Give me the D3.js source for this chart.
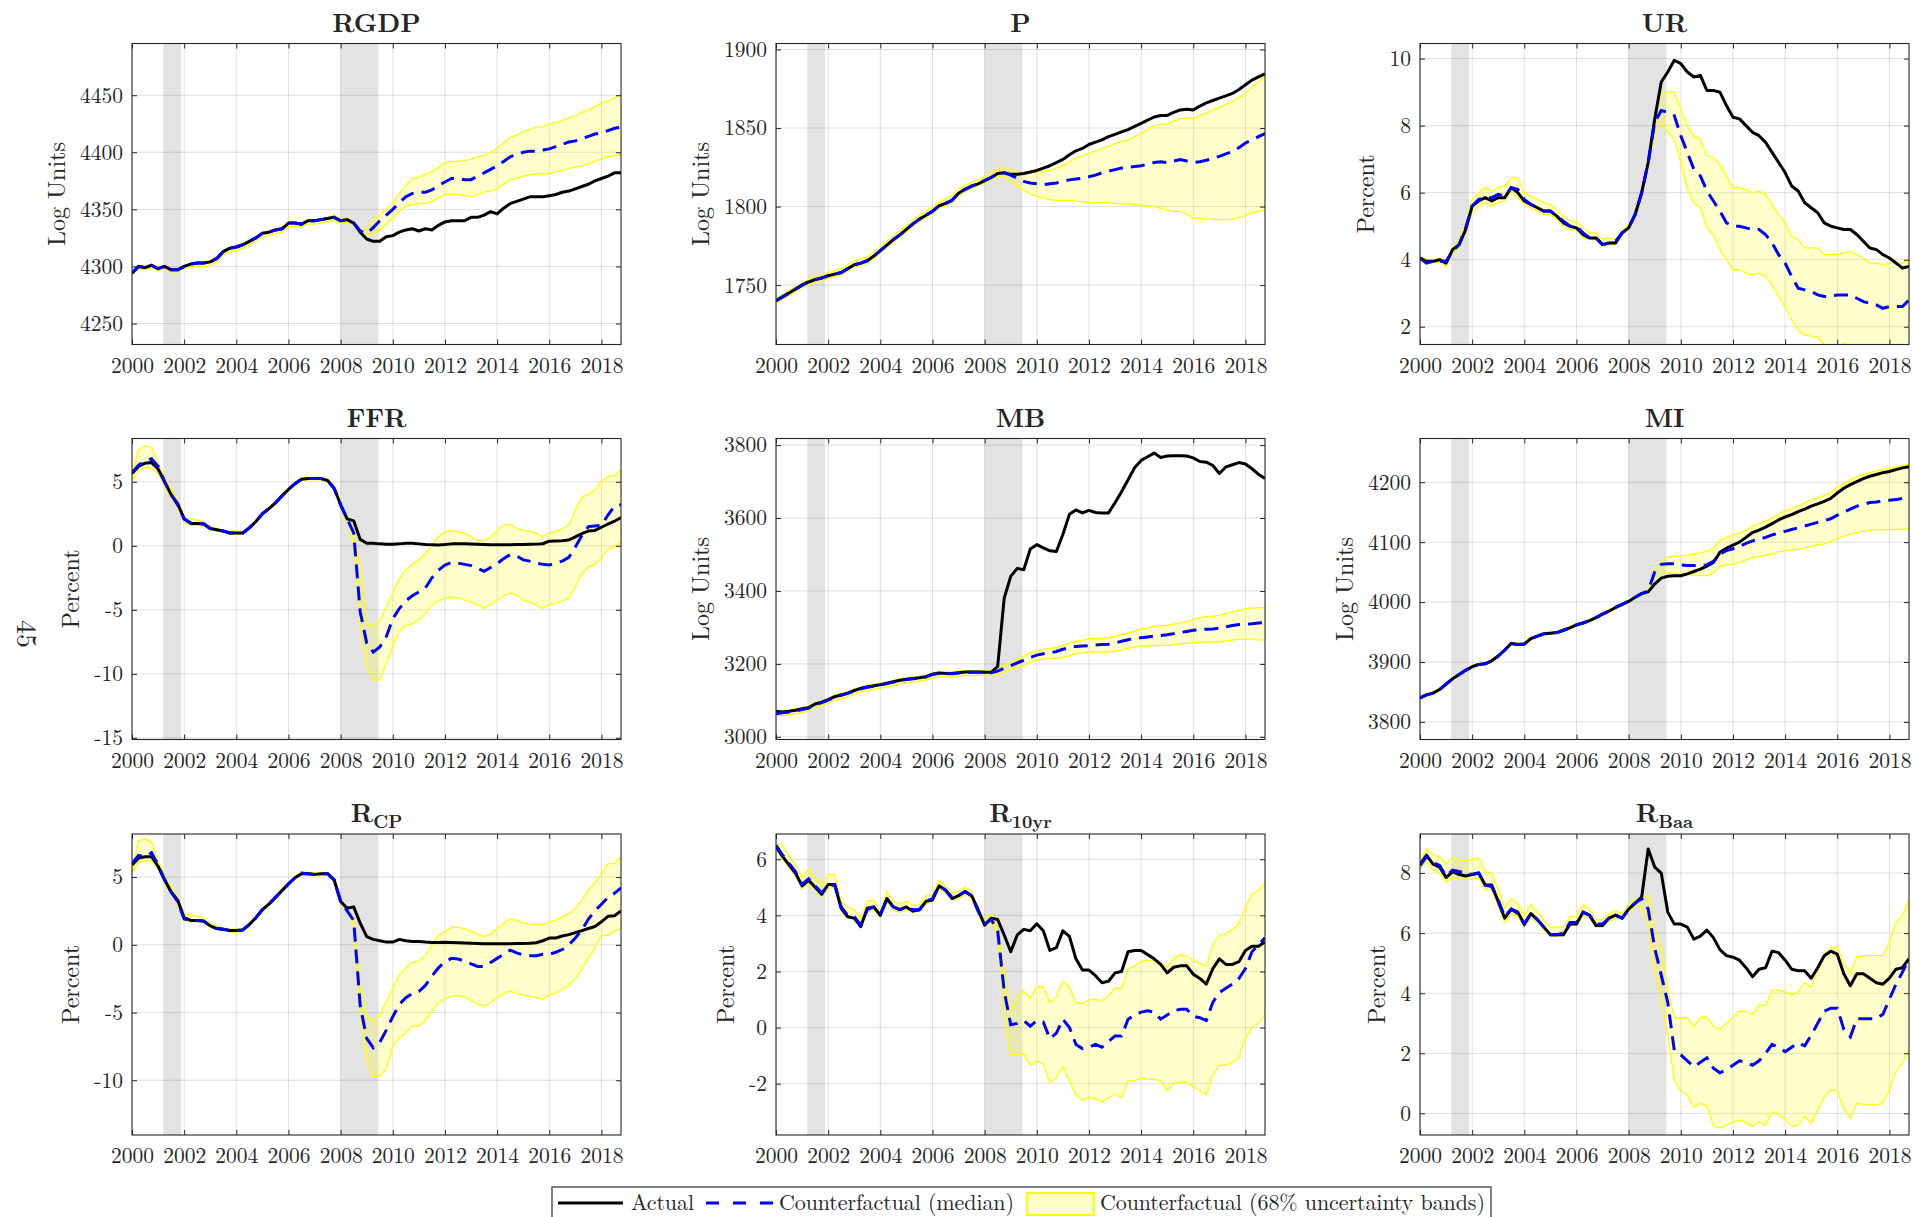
<!DOCTYPE html>
<html>
<head>
<meta charset="utf-8">
<script src="https://cdn.jsdelivr.net/npm/d3@7"></script>
<style>
  body { margin: 0; background: #fff; }
  svg text { font-family: "CMU Serif", "Latin Modern Roman", "Liberation Serif", "Times New Roman", serif; fill: #262626; }
</style>
</head>
<body>
<svg id="fig"></svg>
<script>
// Quarterly dates 2000Q1 .. 2018Q4
var quarters = d3.range(2000, 2019, 0.25);
var xTicks = [2000, 2002, 2004, 2006, 2008, 2010, 2012, 2014, 2016, 2018];
var recessions = [[2001.2, 2001.88], [2008.0, 2009.45]];

// ---- RGDP ----
var rgdpTicks = [4250, 4300, 4350, 4400, 4450];
var rgdpActual = [
  4294, 4300, 4299, 4301, 4298, 4300, 4297, 4297, 4300, 4302, 4303, 4303,
  4304, 4307, 4313, 4316, 4317, 4319, 4322, 4325, 4329, 4330, 4332, 4333,
  4338, 4338, 4337, 4340, 4340, 4341, 4342, 4343, 4340, 4341, 4338, 4330,
  4324, 4322, 4322, 4326, 4327, 4330, 4332, 4333, 4331, 4333, 4332, 4336,
  4339, 4340, 4340, 4340, 4343, 4343, 4345, 4348, 4346, 4351, 4355, 4357,
  4359, 4361, 4361, 4361, 4362, 4363, 4365, 4366, 4368, 4370, 4372, 4375,
  4377, 4379, 4382, 4382];
var rgdpMedian = [
  4294, 4300, 4299, 4301, 4298, 4300, 4297, 4297, 4300, 4302, 4303, 4303,
  4304, 4307, 4313, 4316, 4317, 4319, 4322, 4325, 4329, 4330, 4332, 4333,
  4338, 4338, 4337, 4340, 4340, 4341, 4342, 4343, 4340, 4341, 4338, 4331,
  4329, 4334, 4340, 4345, 4350, 4356, 4361, 4364, 4365, 4365, 4367, 4371,
  4374, 4377, 4377, 4376, 4376, 4379, 4382, 4385, 4388, 4392, 4396, 4398,
  4400, 4401, 4401, 4402, 4403, 4405, 4407, 4409, 4410, 4412, 4414, 4416,
  4417, 4419, 4421, 4422];
var rgdpUpper = [
  4295, 4301, 4300, 4302, 4299, 4301, 4298, 4298, 4301, 4303, 4304, 4304,
  4305, 4308, 4314, 4317, 4318, 4320, 4323, 4326, 4330, 4331, 4333, 4334,
  4339, 4339, 4338, 4341, 4341, 4342, 4343, 4345, 4341, 4342, 4339, 4333,
  4332, 4340, 4346, 4350, 4355, 4364, 4371, 4377, 4378, 4381, 4383, 4387,
  4391, 4392, 4392, 4393, 4394, 4396, 4397, 4400, 4404, 4408, 4413, 4415,
  4418, 4420, 4422, 4422, 4425, 4426, 4428, 4430, 4432, 4435, 4437, 4440,
  4443, 4445, 4448, 4450];
var rgdpLower = [
  4293, 4298, 4297, 4299, 4296, 4298, 4295, 4295, 4298, 4300, 4300, 4300,
  4301, 4304, 4310, 4313, 4314, 4316, 4319, 4322, 4326, 4327, 4329, 4330,
  4335, 4335, 4335, 4337, 4337, 4338, 4339, 4340, 4338, 4339, 4336, 4329,
  4327, 4329, 4332, 4337, 4342, 4348, 4353, 4354, 4355, 4355, 4357, 4360,
  4363, 4363, 4363, 4362, 4361, 4363, 4365, 4366, 4368, 4372, 4376, 4377,
  4379, 4380, 4381, 4381, 4381, 4383, 4384, 4386, 4387, 4388, 4390, 4392,
  4394, 4396, 4397, 4398];

// ---- P ----
var pTicks = [1750, 1800, 1850, 1900];
var pActual = [
  1740, 1742.5, 1745, 1747.5, 1750, 1752, 1753.5, 1754.5, 1756, 1757, 1758, 1760.5,
  1763, 1764, 1765.5, 1768.5, 1772, 1775.5, 1779, 1782, 1785.5, 1789, 1792, 1794.5,
  1797, 1800.5, 1802, 1804, 1808.5, 1811, 1813, 1814.5, 1816.5, 1818.5, 1821, 1821.5,
  1820.5, 1820.5, 1821, 1822, 1823, 1824.5, 1826, 1828, 1830, 1833, 1835.5, 1837,
  1839.5, 1841, 1842.5, 1844.5, 1846, 1847.5, 1849, 1851, 1853, 1855, 1857, 1858,
  1858, 1860, 1861.5, 1862, 1861.5, 1864, 1866, 1867.5, 1869, 1870.5, 1872, 1874.5,
  1877.5, 1880.5, 1882.5, 1884.5];
var pMedian = [
  1740, 1742.5, 1745, 1747.5, 1750, 1752, 1753.5, 1754.5, 1756, 1757, 1758, 1760.5,
  1763, 1764, 1765.5, 1768.5, 1772, 1775.5, 1779, 1782, 1785.5, 1789, 1792, 1794.5,
  1797, 1800.5, 1802, 1804, 1808.5, 1811, 1813, 1814.5, 1816.5, 1818.5, 1821, 1821.5,
  1820, 1818, 1816, 1815, 1814.5, 1814, 1814.5, 1815, 1816, 1817, 1817.5, 1818,
  1819, 1820, 1821.5, 1822.5, 1823.5, 1824.5, 1825, 1825.5, 1826, 1827, 1828, 1828.5,
  1828, 1829, 1830, 1829, 1828, 1828.5, 1829.5, 1830.5, 1832, 1833.5, 1835, 1837.5,
  1840.5, 1842.5, 1844.5, 1846.5];
var pUpper = [
  1741.5, 1744, 1746.5, 1749, 1751.5, 1753.5, 1755.5, 1756.5, 1758, 1759, 1760.5, 1763,
  1765.5, 1766.5, 1768, 1771, 1774.5, 1778, 1781.5, 1784.5, 1788, 1791.5, 1794.5, 1797,
  1799.5, 1803, 1805, 1807, 1811, 1813.5, 1815.5, 1817, 1819, 1821, 1824.5, 1825,
  1823, 1822, 1821.5, 1821.5, 1822, 1822.5, 1823, 1824.5, 1826, 1828.5, 1831, 1832.5,
  1834, 1835.5, 1837, 1838.5, 1840, 1841.5, 1842.5, 1844.5, 1846.5, 1849, 1851.5, 1852.5,
  1852.5, 1854.5, 1856, 1856.5, 1856, 1858, 1859.5, 1861.5, 1863, 1865, 1867, 1869.5,
  1872, 1876, 1879.5, 1883];
var pLower = [
  1738.5, 1741, 1743.5, 1746, 1748.5, 1750.5, 1752, 1753, 1754.5, 1755.5, 1756.5, 1759,
  1761.5, 1762.5, 1764, 1767, 1770.5, 1774, 1777.5, 1780.5, 1784, 1787.5, 1790.5, 1793,
  1795.5, 1799, 1800.5, 1802.5, 1807, 1809.5, 1811.5, 1813, 1815, 1817, 1819, 1819,
  1816, 1813, 1810.5, 1808, 1806.5, 1805.5, 1804.5, 1804, 1804, 1804, 1803.5, 1803,
  1802.5, 1802.5, 1802.5, 1802.5, 1802, 1801.5, 1801.5, 1801, 1801, 1800.5, 1800, 1799,
  1797.5, 1797, 1797, 1795, 1792.5, 1792.5, 1792, 1792, 1791.5, 1791.5, 1792, 1793,
  1794, 1796, 1797, 1798];

// ---- UR ----
var urTicks = [2, 4, 6, 8, 10];
var urActual = [
  4.05, 3.95, 3.95, 4.0, 3.9, 4.3, 4.45, 4.9, 5.6, 5.75, 5.85, 5.75,
  5.85, 5.85, 6.15, 6.0, 5.75, 5.65, 5.55, 5.45, 5.45, 5.3, 5.1, 5.0,
  4.95, 4.75, 4.65, 4.65, 4.45, 4.5, 4.5, 4.8, 4.95, 5.35, 6.0, 6.9,
  8.2, 9.3, 9.6, 9.95, 9.85, 9.6, 9.45, 9.5, 9.05, 9.05, 9.0, 8.6,
  8.25, 8.2, 8.0, 7.8, 7.7, 7.5, 7.2, 6.9, 6.6, 6.2, 6.05, 5.7,
  5.55, 5.4, 5.1, 5.0, 4.95, 4.9, 4.9, 4.75, 4.55, 4.35, 4.3, 4.15,
  4.05, 3.9, 3.75, 3.8];
var urMedian = [
  4.05, 3.9, 3.95, 3.95, 3.95, 4.25, 4.45, 4.95, 5.6, 5.8, 5.85, 5.85,
  5.95, 5.9, 6.15, 6.1, 5.8, 5.65, 5.55, 5.45, 5.45, 5.3, 5.15, 5.0,
  5.0, 4.8, 4.65, 4.65, 4.45, 4.5, 4.55, 4.8, 4.95, 5.35, 6.0, 6.9,
  8.1, 8.45, 8.4, 8.3, 7.7, 7.2, 6.7, 6.5, 6.05, 5.75, 5.45, 5.1,
  5.0, 5.0, 4.95, 4.9, 4.9, 4.75, 4.5, 4.15, 3.9, 3.5, 3.15, 3.1,
  3.05, 2.95, 2.9, 2.9, 2.95, 2.95, 2.95, 2.85, 2.75, 2.7, 2.65, 2.55,
  2.6, 2.6, 2.6, 2.8];
var urUpper = [
  4.1, 4.0, 4.0, 4.05, 3.95, 4.35, 4.6, 5.1, 5.8, 6.0, 6.15, 6.05,
  6.15, 6.2, 6.45, 6.45, 6.0, 5.9, 5.8, 5.7, 5.65, 5.5, 5.3, 5.15,
  5.15, 4.95, 4.8, 4.8, 4.6, 4.65, 4.6, 4.85, 5.05, 5.4, 6.05, 7.0,
  8.3, 9.0, 9.0, 9.0, 8.5, 8.0, 7.7, 7.6, 7.1, 7.05, 6.85, 6.5,
  6.15, 6.15, 6.1, 6.0, 6.05, 5.95, 5.65, 5.35, 5.1, 4.7, 4.6, 4.35,
  4.35, 4.35, 4.15, 4.15, 4.15, 4.2, 4.25, 4.15, 4.05, 3.9, 3.9, 3.85,
  3.9, 3.9, 3.9, 4.0];
var urLower = [
  4.0, 3.9, 3.9, 3.95, 3.8, 4.2, 4.35, 4.8, 5.4, 5.6, 5.7, 5.6,
  5.7, 5.75, 6.05, 5.85, 5.65, 5.55, 5.45, 5.35, 5.35, 5.2, 5.0, 4.9,
  4.9, 4.65, 4.6, 4.6, 4.4, 4.45, 4.45, 4.75, 4.9, 5.3, 5.95, 6.8,
  7.7, 8.1, 7.8, 7.6, 6.9, 6.1, 5.7, 5.55, 4.95, 4.75, 4.3, 4.0,
  3.7, 3.7, 3.6, 3.55, 3.6, 3.5, 3.25, 2.9, 2.6, 2.2, 1.9, 1.75,
  1.72, 1.7, 1.45, 1.45, 1.4, 1.5, 1.45, 1.35, 1.25, 1.1, 1.0, 0.95,
  1.0, 1.0, 1.0, 1.2];

// ---- FFR ----
var ffrTicks = [-15, -10, -5, 0, 5];
var ffrActual = [
  5.65, 6.2, 6.45, 6.5, 6.0, 5.0, 4.0, 3.3, 2.1, 1.75, 1.75, 1.7,
  1.35, 1.25, 1.15, 1.0, 1.0, 1.0, 1.4, 1.9, 2.5, 2.9, 3.35, 3.9,
  4.4, 4.85, 5.2, 5.25, 5.25, 5.25, 5.1, 4.5, 3.2, 2.1, 1.95, 0.5,
  0.2, 0.2, 0.15, 0.12, 0.12, 0.15, 0.2, 0.2, 0.15, 0.1, 0.08, 0.07,
  0.1, 0.15, 0.15, 0.15, 0.14, 0.12, 0.1, 0.08, 0.08, 0.09, 0.09, 0.1,
  0.11, 0.12, 0.13, 0.16, 0.36, 0.37, 0.39, 0.45, 0.7, 0.95, 1.15, 1.2,
  1.45, 1.7, 1.92, 2.2];
var ffrMedian = [
  5.7, 6.3, 6.6, 6.8, 6.2, 5.0, 4.0, 3.2, 2.1, 1.8, 1.8, 1.7,
  1.35, 1.25, 1.15, 1.0, 1.0, 1.0, 1.4, 1.9, 2.5, 2.9, 3.35, 3.9,
  4.4, 4.85, 5.2, 5.25, 5.25, 5.25, 5.1, 4.5, 3.2, 2.1, 1.0, -5.15,
  -7.6, -8.3, -7.9, -7.1, -5.7, -4.9, -4.3, -3.9, -3.6, -3.3, -2.5, -1.9,
  -1.5, -1.3, -1.35, -1.45, -1.55, -1.75, -2.0, -1.7, -1.4, -1.0, -0.7, -0.8,
  -1.1, -1.2, -1.35, -1.45, -1.5, -1.35, -1.2, -0.9, -0.1, 0.8, 1.5, 1.55,
  1.6, 2.4, 3.1, 3.2];
var ffrUpper = [
  5.5, 7.5, 7.8, 7.7, 6.5, 5.3, 4.5, 3.5, 2.2, 2.1, 2.0, 1.9,
  1.5, 1.35, 1.2, 1.15, 1.15, 1.1, 1.5, 2.0, 2.6, 3.0, 3.45, 4.0,
  4.5, 4.95, 5.3, 5.35, 5.35, 5.35, 5.2, 4.6, 3.3, 2.2, 0.7, -1.4,
  -6.1, -6.2, -5.8, -4.8, -3.7, -2.55, -1.9, -1.4, -1.1, -0.6, 0.05, 0.7,
  1.1, 1.2, 1.1, 1.0, 0.7, 0.45, 0.4, 0.7, 1.2, 1.6, 1.7, 1.35,
  1.2, 1.1, 1.0, 0.7, 1.0, 1.1, 1.35, 1.6, 2.8, 3.8, 4.0, 4.35,
  5.0, 5.4, 5.5, 5.9];
var ffrLower = [
  5.0, 5.9, 6.1, 6.1, 5.6, 4.7, 3.7, 3.0, 1.9, 1.6, 1.6, 1.55,
  1.25, 1.15, 1.05, 0.9, 0.9, 0.9, 1.3, 1.8, 2.4, 2.8, 3.25, 3.8,
  4.3, 4.75, 5.1, 5.15, 5.15, 5.15, 5.0, 4.4, 3.1, 2.0, 0.2, -6.1,
  -9.45, -10.5, -10.5, -9.2, -7.9, -6.7, -6.2, -6.1, -5.8, -5.3, -4.6, -4.3,
  -4.1, -4.0, -4.1, -4.25, -4.4, -4.6, -4.9, -4.6, -4.25, -3.9, -3.7, -3.85,
  -4.25, -4.4, -4.6, -4.9, -4.6, -4.5, -4.3, -4.1, -3.2, -2.2, -1.65, -1.5,
  -0.9, -0.3, -0.1, 0.3];

// ---- MB ----
var mbTicks = [3000, 3200, 3400, 3600, 3800];
var mbActual = [
  3070, 3068, 3070, 3073, 3077, 3080, 3090, 3095, 3102, 3110, 3115, 3120,
  3127, 3133, 3137, 3140, 3143, 3147, 3151, 3155, 3158, 3160, 3162, 3165,
  3172, 3175, 3174, 3174, 3176, 3178, 3178, 3178, 3177, 3177, 3193, 3380,
  3440, 3462, 3458, 3515, 3527, 3518, 3510, 3508, 3555, 3610, 3622, 3614,
  3621, 3615, 3614, 3614, 3642, 3672, 3705, 3738, 3758, 3768, 3778, 3766,
  3770, 3771, 3771, 3770, 3765, 3755, 3753, 3744, 3722, 3740, 3746, 3752,
  3748, 3735, 3720, 3708];
var mbMedian = [
  3063, 3066, 3068, 3071, 3075, 3079, 3088, 3094, 3101, 3108, 3114, 3119,
  3126, 3132, 3136, 3139, 3142, 3146, 3150, 3154, 3157, 3159, 3161, 3164,
  3171, 3174, 3173, 3173, 3175, 3177, 3177, 3177, 3176, 3176, 3180, 3188,
  3195, 3203, 3210, 3218, 3224, 3228, 3230, 3234, 3240, 3245, 3248, 3249,
  3250, 3252, 3253, 3254, 3257, 3262, 3266, 3270, 3272, 3274, 3276, 3278,
  3280, 3283, 3286, 3289, 3292, 3294, 3295, 3296, 3298, 3302, 3305, 3308,
  3309, 3310, 3312, 3313];
var mbUpper = [
  3072, 3072, 3074, 3077, 3081, 3084, 3094, 3099, 3106, 3114, 3119, 3124,
  3131, 3137, 3141, 3144, 3147, 3151, 3155, 3159, 3162, 3164, 3166, 3169,
  3176, 3179, 3178, 3178, 3180, 3182, 3182, 3182, 3181, 3182, 3186, 3196,
  3205, 3212, 3222, 3230, 3236, 3240, 3242, 3245, 3250, 3256, 3262, 3265,
  3268, 3269, 3270, 3272, 3275, 3280, 3285, 3290, 3295, 3299, 3302, 3304,
  3306, 3309, 3312, 3316, 3322, 3326, 3330, 3331, 3333, 3338, 3343, 3347,
  3352, 3353, 3354, 3355];
var mbLower = [
  3058, 3058, 3060, 3063, 3067, 3071, 3080, 3086, 3093, 3100, 3105, 3110,
  3117, 3123, 3127, 3130, 3133, 3137, 3141, 3145, 3148, 3150, 3152, 3155,
  3162, 3165, 3164, 3164, 3166, 3168, 3168, 3168, 3168, 3168, 3170, 3178,
  3185, 3190, 3196, 3204, 3210, 3213, 3215, 3216, 3218, 3222, 3228, 3230,
  3232, 3232, 3232, 3233, 3235, 3238, 3243, 3246, 3248, 3249, 3250, 3250,
  3251, 3252, 3254, 3256, 3258, 3259, 3260, 3260, 3260, 3263, 3265, 3267,
  3268, 3268, 3266, 3265];

// ---- MI ----
var miTicks = [3800, 3900, 4000, 4100, 4200];
var miActual = [
  3840, 3845, 3848, 3854, 3863, 3872, 3879, 3886, 3892, 3896, 3897, 3902,
  3910, 3920, 3931, 3929, 3930, 3939, 3943, 3947, 3948, 3949, 3953, 3957,
  3962, 3965, 3969, 3974, 3980, 3985, 3991, 3996, 4001, 4008, 4014, 4017,
  4030, 4040, 4043, 4044, 4044, 4047, 4051, 4055, 4060, 4066, 4083, 4090,
  4095, 4100, 4108, 4116, 4120, 4125, 4131, 4137, 4142, 4146, 4151, 4155,
  4160, 4164, 4168, 4173, 4182, 4190, 4196, 4201, 4206, 4210, 4213, 4216,
  4218, 4221, 4224, 4226];
var miMedian = [
  3840, 3845, 3848, 3854, 3863, 3872, 3879, 3886, 3892, 3896, 3897, 3902,
  3910, 3920, 3931, 3929, 3930, 3939, 3943, 3947, 3948, 3949, 3953, 3957,
  3962, 3965, 3969, 3974, 3980, 3985, 3991, 3996, 4001, 4008, 4014, 4019,
  4050, 4063, 4064, 4064, 4062, 4061, 4061, 4061, 4062, 4068, 4080, 4086,
  4089, 4093, 4098, 4102, 4105, 4108, 4112, 4115, 4118, 4121, 4124, 4127,
  4130, 4133, 4136, 4139, 4145, 4150, 4155, 4160, 4163, 4166, 4167, 4169,
  4170, 4171, 4173, 4175];
var miUpper = [
  3842, 3847, 3850, 3856, 3865, 3874, 3881, 3888, 3894, 3898, 3899, 3904,
  3912, 3922, 3933, 3931, 3932, 3941, 3945, 3949, 3950, 3951, 3955, 3959,
  3964, 3967, 3971, 3976, 3982, 3987, 3993, 3998, 4003, 4010, 4016, 4021,
  4050, 4068, 4075, 4077, 4077, 4078, 4080, 4082, 4085, 4090, 4103, 4108,
  4112, 4115, 4120, 4127, 4131, 4135, 4140, 4147, 4152, 4156, 4160, 4165,
  4170, 4174, 4178, 4183, 4192, 4198, 4204, 4209, 4213, 4216, 4219, 4221,
  4223, 4225, 4228, 4230];
var miLower = [
  3838, 3843, 3846, 3852, 3861, 3870, 3877, 3884, 3890, 3894, 3895, 3900,
  3908, 3918, 3929, 3927, 3928, 3937, 3941, 3945, 3946, 3947, 3951, 3955,
  3960, 3963, 3967, 3972, 3978, 3983, 3989, 3994, 3999, 4006, 4012, 4016,
  4030, 4045, 4049, 4048, 4046, 4046, 4045, 4044, 4044, 4048, 4060, 4062,
  4063, 4066, 4070, 4074, 4076, 4078, 4080, 4084, 4086, 4087, 4088, 4090,
  4093, 4095, 4097, 4100, 4106, 4110, 4113, 4116, 4118, 4120, 4121, 4121,
  4121, 4121, 4122, 4122];

// ---- R_CP ----
var rcpTicks = [-10, -5, 0, 5];
var rcpActual = [
  5.9, 6.4, 6.5, 6.5, 5.8, 4.8, 3.9, 3.3, 2.0, 1.8, 1.8, 1.75,
  1.4, 1.2, 1.15, 1.05, 1.05, 1.1, 1.5, 2.0, 2.6, 3.0, 3.5, 4.0,
  4.5, 4.95, 5.25, 5.25, 5.2, 5.25, 5.25, 4.8, 3.2, 2.7, 2.8, 1.6,
  0.6, 0.4, 0.3, 0.2, 0.2, 0.4, 0.3, 0.25, 0.25, 0.2, 0.17, 0.17,
  0.18, 0.17, 0.15, 0.14, 0.12, 0.1, 0.08, 0.07, 0.07, 0.07, 0.08, 0.1,
  0.1, 0.11, 0.15, 0.3, 0.5, 0.5, 0.65, 0.75, 0.9, 1.05, 1.2, 1.35,
  1.7, 2.1, 2.15, 2.5];
var rcpMedian = [
  6.0, 6.6, 6.5, 6.8, 5.9, 4.8, 3.9, 3.2, 1.9, 1.8, 1.8, 1.75,
  1.4, 1.2, 1.15, 1.05, 1.05, 1.1, 1.5, 2.0, 2.6, 3.0, 3.5, 4.0,
  4.5, 4.95, 5.3, 5.25, 5.2, 5.25, 5.25, 4.8, 3.2, 2.5, 1.8, -4.5,
  -6.9, -7.6, -7.2, -6.3, -5.3, -4.4, -3.9, -3.6, -3.45, -3.0, -2.3, -1.7,
  -1.25, -1.0, -1.05, -1.2, -1.4, -1.6, -1.6, -1.3, -1.0, -0.7, -0.4, -0.6,
  -0.75, -0.8, -0.8, -0.7, -0.7, -0.55, -0.35, 0.0, 0.5, 1.1, 1.9, 2.5,
  3.0, 3.5, 3.8, 4.2];
var rcpUpper = [
  5.3, 7.7, 7.8, 7.6, 6.2, 5.1, 4.3, 3.5, 2.3, 2.2, 2.1, 2.0,
  1.6, 1.35, 1.25, 1.15, 1.15, 1.2, 1.6, 2.1, 2.7, 3.1, 3.6, 4.1,
  4.6, 5.05, 5.4, 5.35, 5.3, 5.35, 5.35, 4.9, 3.3, 2.6, 1.9, -3.0,
  -5.4, -5.55, -5.2, -4.2, -3.2, -2.2, -1.7, -1.3, -1.2, -0.8, 0.0, 0.7,
  1.0, 1.3, 1.3, 1.2, 1.0, 0.8, 0.6, 0.8, 1.2, 1.6, 1.9, 1.8,
  1.6, 1.55, 1.5, 1.5, 1.7, 1.8, 2.1, 2.3, 2.7, 3.3, 4.0, 4.6,
  5.2, 6.0, 6.0, 6.5];
var rcpLower = [
  5.3, 6.1, 6.2, 6.2, 5.6, 4.6, 3.7, 3.0, 1.8, 1.7, 1.7, 1.65,
  1.3, 1.1, 1.05, 0.95, 0.95, 1.0, 1.4, 1.9, 2.5, 2.9, 3.4, 3.9,
  4.4, 4.85, 5.15, 5.15, 5.1, 5.15, 5.15, 4.7, 3.1, 2.4, 1.5, -5.0,
  -8.6, -9.7, -9.7, -9.2, -7.5, -6.9, -6.5, -6.0, -6.0, -5.6, -4.9, -4.3,
  -4.0, -3.8, -3.75, -3.85, -4.1, -4.4, -4.5, -4.3, -3.9, -3.6, -3.4, -3.6,
  -3.7, -3.8, -3.9, -4.0, -3.7, -3.6, -3.3, -3.0, -2.5, -1.8, -1.0, -0.3,
  0.7, 0.7, 1.0, 1.2];

// ---- R_10yr ----
var r10Ticks = [-2, 0, 2, 4, 6];
var r10Actual = [
  6.45, 6.1, 5.8, 5.5, 5.05, 5.25, 5.0, 4.75, 5.1, 5.1, 4.25, 3.95,
  3.9, 3.6, 4.25, 4.3, 4.0, 4.6, 4.3, 4.2, 4.3, 4.15, 4.2, 4.5,
  4.55, 5.05, 4.9, 4.6, 4.7, 4.85, 4.7, 4.2, 3.65, 3.9, 3.85, 3.3,
  2.7, 3.3, 3.5, 3.45, 3.7, 3.45, 2.75, 2.85, 3.45, 3.25, 2.45, 2.05,
  2.05, 1.85, 1.6, 1.65, 1.95, 2.0, 2.7, 2.75, 2.75, 2.6, 2.45, 2.25,
  1.95, 2.15, 2.2, 2.2, 1.9, 1.75, 1.55, 2.1, 2.45, 2.25, 2.25, 2.35,
  2.75, 2.9, 2.9, 3.05];
var r10Median = [
  6.5, 6.15, 5.85, 5.55, 5.1, 5.3, 5.05, 4.8, 5.05, 5.1, 4.3, 4.0,
  3.95, 3.65, 4.2, 4.3, 4.05, 4.55, 4.3, 4.2, 4.3, 4.2, 4.2, 4.5,
  4.6, 5.05, 4.9, 4.65, 4.7, 4.85, 4.7, 4.15, 3.7, 3.85, 3.45, 1.3,
  0.1, 0.15, 0.25, 0.05, 0.25, 0.2, -0.4, -0.2, 0.3, 0.0, -0.6, -0.75,
  -0.7, -0.6, -0.7, -0.5, -0.3, -0.3, 0.3, 0.45, 0.55, 0.6, 0.55, 0.3,
  0.45, 0.6, 0.65, 0.65, 0.4, 0.35, 0.25, 0.9, 1.25, 1.4, 1.55, 1.75,
  2.1, 2.7, 2.95, 3.2];
var r10Upper = [
  6.55, 6.5, 6.1, 5.8, 5.35, 5.65, 5.35, 5.1, 5.45, 5.45, 4.5, 4.3,
  4.2, 3.85, 4.5, 4.55, 4.1, 4.85, 4.5, 4.4, 4.5, 4.35, 4.4, 4.7,
  4.75, 5.25, 5.05, 4.8, 4.85, 5.0, 4.85, 4.3, 3.8, 4.05, 3.6, 2.0,
  0.6, 1.1, 1.3, 1.05, 1.45, 1.45, 0.9, 1.1, 1.65, 1.45, 0.9, 0.85,
  1.0, 1.0, 0.95, 1.15, 1.4, 1.4, 2.1, 2.2, 2.35, 2.4, 2.4, 2.3,
  2.15, 2.45, 2.6, 2.55, 2.4, 2.3, 2.2, 2.95, 3.3, 3.35, 3.5, 3.7,
  4.3, 4.75, 4.9, 5.15];
var r10Lower = [
  6.35, 6.0, 5.7, 5.4, 4.95, 5.15, 4.9, 4.65, 4.95, 5.0, 4.15, 3.9,
  3.85, 3.55, 4.1, 4.2, 3.95, 4.5, 4.2, 4.1, 4.2, 4.1, 4.15, 4.4,
  4.5, 4.95, 4.8, 4.55, 4.6, 4.75, 4.6, 4.05, 3.6, 3.75, 3.3, 0.5,
  -1.0, -0.95, -0.95, -1.35, -1.2, -1.3, -1.95, -1.8, -1.4, -1.9, -2.4, -2.6,
  -2.5, -2.55, -2.65, -2.5, -2.35, -2.5, -1.9, -1.9, -1.8, -1.85, -1.85, -1.9,
  -2.25, -2.0, -1.95, -1.95, -2.1, -2.25, -2.4, -1.7, -1.35, -1.35, -1.25, -1.05,
  -0.4, 0.0, 0.15, 0.45];

// ---- R_Baa ----
var baaTicks = [0, 2, 4, 6, 8];
var baaActual = [
  8.28, 8.6, 8.3, 8.2, 7.85, 8.05, 7.95, 7.9, 7.95, 8.0, 7.6, 7.6,
  7.05, 6.5, 6.8, 6.7, 6.3, 6.65, 6.45, 6.2, 5.95, 5.95, 5.95, 6.3,
  6.3, 6.7, 6.6, 6.25, 6.25, 6.5, 6.6, 6.5, 6.8, 7.0, 7.2, 8.8,
  8.2, 8.0, 6.7, 6.3, 6.3, 6.2, 5.8, 5.9, 6.1, 5.85, 5.45, 5.25,
  5.2, 5.1, 4.85, 4.55, 4.8, 4.85, 5.4, 5.35, 5.1, 4.8, 4.75, 4.75,
  4.5, 4.85, 5.25, 5.4, 5.3, 4.65, 4.25, 4.65, 4.65, 4.5, 4.35, 4.3,
  4.5, 4.8, 4.85, 5.15];
var baaMedian = [
  8.25, 8.55, 8.35, 8.25, 7.9, 8.1, 8.05, 8.0, 7.95, 8.0, 7.6, 7.55,
  7.1, 6.55, 6.8, 6.65, 6.3, 6.65, 6.45, 6.2, 5.95, 5.95, 6.0, 6.35,
  6.35, 6.7, 6.6, 6.3, 6.3, 6.5, 6.6, 6.5, 6.8, 7.0, 7.15, 6.8,
  5.5, 4.6, 3.7, 2.1, 1.95, 1.75, 1.55, 1.7, 1.85, 1.5, 1.35, 1.45,
  1.6, 1.75, 1.7, 1.6, 1.75, 2.0, 2.3, 2.2, 2.05, 2.2, 2.35, 2.25,
  2.6, 3.0, 3.4, 3.5, 3.5, 2.8, 2.55, 3.15, 3.15, 3.15, 3.15, 3.3,
  3.8, 4.3, 4.7, 5.15];
var baaUpper = [
  8.4, 8.8, 8.6, 8.55, 8.3, 8.5, 8.45, 8.4, 8.45, 8.5, 8.05, 8.0,
  7.45, 6.85, 7.15, 7.0, 6.6, 6.95, 6.7, 6.45, 6.2, 6.2, 6.2, 6.55,
  6.55, 6.95, 6.8, 6.45, 6.45, 6.65, 6.75, 6.65, 6.95, 7.15, 7.2, 7.25,
  6.1, 5.5, 4.1, 3.2, 3.15, 3.2, 2.9, 3.2, 3.2, 2.9, 2.8, 3.0,
  3.2, 3.4, 3.4, 3.3, 3.6, 3.6, 4.1, 4.1, 4.05, 3.95, 4.05, 4.35,
  4.2, 4.75, 5.25, 5.5, 5.55, 5.0, 4.7, 5.2, 5.25, 5.25, 5.25, 5.25,
  5.7, 6.35, 6.6, 7.1];
var baaLower = [
  8.15, 8.4, 8.1, 8.0, 7.7, 7.85, 7.8, 7.8, 7.8, 7.85, 7.45, 7.45,
  6.9, 6.35, 6.65, 6.55, 6.2, 6.5, 6.35, 6.1, 5.9, 5.9, 5.9, 6.25,
  6.25, 6.6, 6.5, 6.2, 6.2, 6.4, 6.5, 6.45, 6.7, 6.9, 6.9, 6.3,
  4.7, 3.9, 2.6, 1.1, 0.75, 0.6, 0.2, 0.33, 0.25, -0.4, -0.5, -0.4,
  -0.3, -0.22, -0.3, -0.45, -0.28, -0.4, 0.05, -0.05, -0.2, -0.44, -0.39, -0.1,
  -0.33, 0.1, 0.55, 0.78, 0.75, 0.15, -0.17, 0.33, 0.3, 0.28, 0.28, 0.33,
  0.78, 1.4, 1.67, 2.1];

var svgWidth = 1913;
var svgHeight = 1217;
var plotW = 489;
var plotH = 301;
var colX = [132, 776, 1420];
var rowY = [43.5, 438.5, 834];

var panels = [
  {title: "RGDP", sub: "", ylabel: "Log Units", domain: [4231.6, 4495.3], ticks: rgdpTicks, actual: rgdpActual, median: rgdpMedian, lower: rgdpLower, upper: rgdpUpper},
  {title: "P", sub: "", ylabel: "Log Units", domain: [1712.2, 1903.8], ticks: pTicks, actual: pActual, median: pMedian, lower: pLower, upper: pUpper},
  {title: "UR", sub: "", ylabel: "Percent", domain: [1.47, 10.45], ticks: urTicks, actual: urActual, median: urMedian, lower: urLower, upper: urUpper},
  {title: "FFR", sub: "", ylabel: "Percent", domain: [-15.13, 8.38], ticks: ffrTicks, actual: ffrActual, median: ffrMedian, lower: ffrLower, upper: ffrUpper},
  {title: "MB", sub: "", ylabel: "Log Units", domain: [2992.7, 3818], ticks: mbTicks, actual: mbActual, median: mbMedian, lower: mbLower, upper: mbUpper},
  {title: "MI", sub: "", ylabel: "Log Units", domain: [3770.6, 4273], ticks: miTicks, actual: miActual, median: miMedian, lower: miLower, upper: miUpper},
  {title: "R", sub: "CP", ylabel: "Percent", domain: [-14.04, 8.18], ticks: rcpTicks, actual: rcpActual, median: rcpMedian, lower: rcpLower, upper: rcpUpper},
  {title: "R", sub: "10yr", ylabel: "Percent", domain: [-3.83, 6.9], ticks: r10Ticks, actual: r10Actual, median: r10Median, lower: r10Lower, upper: r10Upper},
  {title: "R", sub: "Baa", ylabel: "Percent", domain: [-0.72, 9.3], ticks: baaTicks, actual: baaActual, median: baaMedian, lower: baaLower, upper: baaUpper}
];

var svg = d3.select("#fig")
  .attr("width", svgWidth)
  .attr("height", svgHeight);

var axisColor = "#262626";
var fmt = d => String(d);   // plain hyphen for negatives, like the LaTeX labels

panels.forEach(function(p, k) {
  var col = k % 3, row = Math.floor(k / 3);
  var g = svg.append("g").attr("transform", `translate(${colX[col]}, ${rowY[row]})`);

  var x = d3.scaleLinear().domain([2000, 2018.75]).range([0, plotW]);
  var y = d3.scaleLinear().domain(p.domain).range([plotH, 0]);

  g.append("clipPath").attr("id", "clip" + k)
    .append("rect").attr("width", plotW).attr("height", plotH);
  var plot = g.append("g").attr("clip-path", `url(#clip${k})`);

  // recession shading
  plot.selectAll(".rec").data(recessions).enter().append("rect")
    .attr("x", d => x(d[0]))
    .attr("width", d => x(d[1]) - x(d[0]))
    .attr("y", 0)
    .attr("height", plotH)
    .attr("fill", "#e3e3e3");

  // grid
  plot.selectAll(".gx").data(xTicks).enter().append("line")
    .attr("x1", d => x(d)).attr("x2", d => x(d))
    .attr("y1", 0).attr("y2", plotH)
    .attr("stroke", axisColor).attr("stroke-opacity", 0.14);
  plot.selectAll(".gy").data(p.ticks).enter().append("line")
    .attr("x1", 0).attr("x2", plotW)
    .attr("y1", d => y(d)).attr("y2", d => y(d))
    .attr("stroke", axisColor).attr("stroke-opacity", 0.14);

  // uncertainty band
  var band = d3.area()
    .x((d, i) => x(quarters[i]))
    .y0((d, i) => y(p.lower[i]))
    .y1((d, i) => y(p.upper[i]));
  plot.append("path").datum(p.lower)
    .attr("d", band)
    .attr("fill", "#ffff00")
    .attr("fill-opacity", 0.2);

  var line = d3.line().x((d, i) => x(quarters[i])).y(d => y(d));
  [p.lower, p.upper].forEach(function(s) {
    plot.append("path").datum(s)
      .attr("d", line)
      .attr("fill", "none")
      .attr("stroke", "#ffff00")
      .attr("stroke-width", 1.3);
  });

  // actual
  plot.append("path").datum(p.actual)
    .attr("d", line)
    .attr("fill", "none")
    .attr("stroke", "#000")
    .attr("stroke-width", 3)
    .attr("stroke-linejoin", "round");

  // counterfactual median
  plot.append("path").datum(p.median)
    .attr("d", line)
    .attr("fill", "none")
    .attr("stroke", "#0000ff")
    .attr("stroke-width", 3)
    .attr("stroke-dasharray", "14,8");

  // axes
  var xAxis = g.append("g")
    .attr("transform", `translate(0, ${plotH})`)
    .call(d3.axisBottom(x).tickValues(xTicks).tickFormat(fmt).tickSize(-5).tickPadding(13));
  var yAxis = g.append("g")
    .call(d3.axisLeft(y).tickValues(p.ticks).tickFormat(fmt).tickSize(-5).tickPadding(9));
  g.append("g")
    .call(d3.axisTop(x).tickValues(xTicks).tickFormat("").tickSize(-5));
  g.append("g")
    .attr("transform", `translate(${plotW}, 0)`)
    .call(d3.axisRight(y).tickValues(p.ticks).tickFormat("").tickSize(-5));

  g.selectAll(".domain").remove();
  g.selectAll(".tick line").attr("stroke", axisColor);
  g.selectAll(".tick text")
    .attr("font-family", null)
    .attr("font-size", 21.5)
    .attr("fill", axisColor);

  g.append("rect")
    .attr("width", plotW).attr("height", plotH)
    .attr("fill", "none")
    .attr("stroke", axisColor)
    .attr("stroke-width", 1.1);

  // y label placed beyond widest tick label
  var tw = d3.max(yAxis.selectAll("text").nodes(), n => n.getComputedTextLength());
  g.append("text")
    .attr("transform", `translate(${-9 - tw - 23}, ${plotH / 2}) rotate(-90)`)
    .attr("text-anchor", "middle")
    .attr("dy", "0.32em")
    .attr("font-size", 24)
    .text(p.ylabel);

  // title
  var title = g.append("text")
    .attr("x", plotW / 2)
    .attr("y", -12)
    .attr("text-anchor", "middle")
    .attr("font-size", 26)
    .attr("font-weight", "bold")
    .attr("fill", "#000");
  title.append("tspan").text(p.title);
  if (p.sub) {
    title.append("tspan")
      .attr("font-size", 18)
      .attr("dy", 6)
      .text(p.sub);
  }
});

// page number
svg.append("text")
  .attr("transform", "translate(27, 634) rotate(90)")
  .attr("text-anchor", "middle")
  .attr("dy", "0.35em")
  .attr("font-size", 28)
  .text("45");

// legend
var legend = svg.append("g");
legend.append("rect")
  .attr("x", 552).attr("y", 1187)
  .attr("width", 939).attr("height", 34)
  .attr("fill", "#fff")
  .attr("stroke", "#555")
  .attr("stroke-width", 1.5);
legend.append("line")
  .attr("x1", 558).attr("x2", 623).attr("y1", 1203).attr("y2", 1203)
  .attr("stroke", "#000").attr("stroke-width", 3);
legend.append("line")
  .attr("x1", 706).attr("x2", 773).attr("y1", 1203).attr("y2", 1203)
  .attr("stroke", "#0000ff").attr("stroke-width", 3)
  .attr("stroke-dasharray", "13,14");
legend.append("rect")
  .attr("x", 1027).attr("y", 1193)
  .attr("width", 67).attr("height", 22)
  .attr("fill", "#ffff00").attr("fill-opacity", 0.2)
  .attr("stroke", "#ffff00").attr("stroke-width", 2);

var legendLabels = [
  {text: "Actual", x: 631, w: 63},
  {text: "Counterfactual (median)", x: 779, w: 235},
  {text: "Counterfactual (68% uncertainty bands)", x: 1100, w: 385}
];
legend.selectAll(".lt").data(legendLabels).enter().append("text")
  .attr("x", d => d.x)
  .attr("y", 1210)
  .attr("font-size", 22)
  .attr("fill", "#000")
  .attr("textLength", d => d.w)
  .attr("lengthAdjust", "spacing")
  .text(d => d.text);
</script>
</body>
</html>
